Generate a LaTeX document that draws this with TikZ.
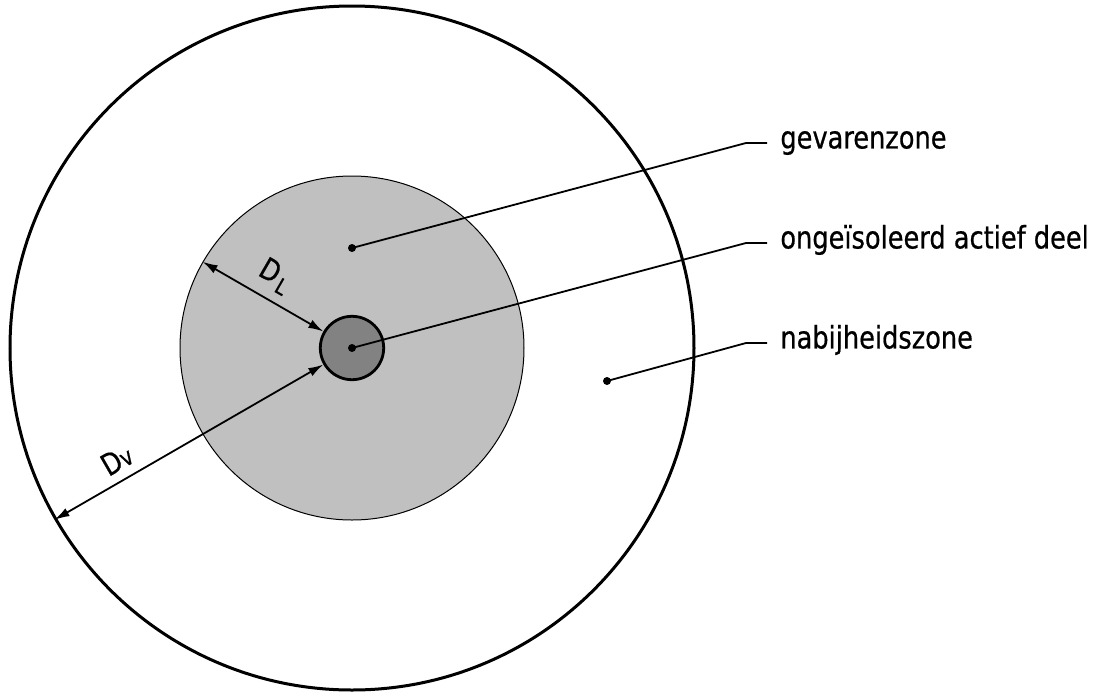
\documentclass[tikz,border=0pt]{standalone}
\usepackage{fontspec}
\setmainfont{DejaVu Sans Condensed}[FakeStretch=0.92,FakeBold=0.6]
\usetikzlibrary{arrows.meta}
\definecolor{zonegray}{RGB}{192,192,192}
\definecolor{partgray}{RGB}{130,130,130}
\tikzset{
  zone/.style={circle, inner sep=0pt, draw=black},
  leader/.style={line width=0.9pt},
  dimline/.style={line width=0.9pt, {Latex[length=7.5pt,width=4.5pt]}-{Latex[length=7.5pt,width=4.5pt]}},
  zonelabel/.style={anchor=mid west, font=\fontsize{15.5}{18}\selectfont, inner xsep=6.5pt, inner ysep=0pt},
  dimlabel/.style={font=\fontsize{15}{18}\selectfont, sloped, above, inner sep=4.5pt},
}
\newcommand{\leaderdot}[1]{\fill (#1) circle (2pt);}

\begin{document}
\begin{tikzpicture}[x=0.5pt,y=-0.5pt]
\useasboundingbox (0,0) rectangle (1116,692);
% zones
\coordinate (c) at (352,348);
\node[zone, line width=1.5pt, minimum size=342pt] (vz) at (c) {};
\node[zone, fill=zonegray, line width=0.5pt, minimum size=172pt] (gz) at (c) {};
\node[zone, fill=partgray, line width=1.4pt, minimum size=31.7pt] (part) at (c) {};
% dimensions
\draw[dimline] (gz.150) -- (part.150) node[dimlabel, midway] {D\kern1.5pt{\fontsize{11}{12}\selectfont\raisebox{-3pt}{L}}};
\draw[dimline] (vz.210) -- (part.210) node[dimlabel, pos=0.27] {D{\fontsize{12}{14}\selectfont v}};
% labels
\coordinate (gdot) at (352,248);
\coordinate (ndot) at (607,381);
\coordinate (gbend) at (746,143);
\coordinate (obend) at (746,243);
\coordinate (nbend) at (746,343);
\node[zonelabel] (gev) at (767,143) {gevarenzone};
\node[zonelabel] (onge) at (767,243) {ongeïsoleerd actief deel};
\node[zonelabel] (nabij) at (767,343) {nabijheidszone};
\draw[leader] (gdot) -- (gbend) -- (gev.mid west);
\draw[leader] (c) -- (obend) -- (onge.mid west);
\draw[leader] (ndot) -- (nbend) -- (nabij.mid west);
\leaderdot{gdot}
\leaderdot{c}
\leaderdot{ndot}
\end{tikzpicture}
\end{document}
